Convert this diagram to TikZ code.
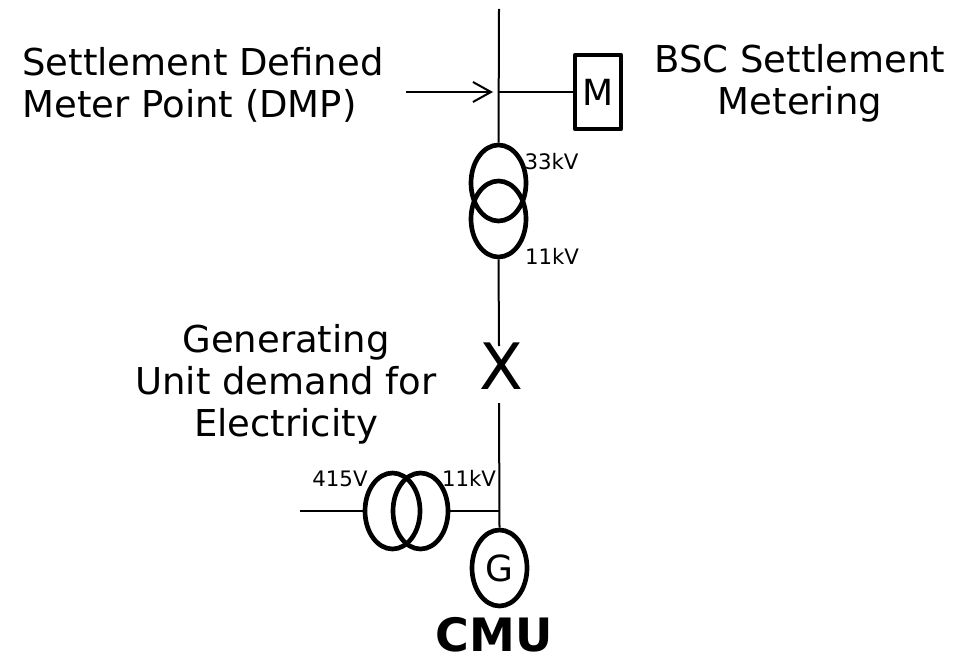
\documentclass[tikz,border=0pt]{standalone}
\usepackage{fontspec}
\setmainfont{DejaVu Sans}
\usetikzlibrary{arrows.meta,shapes.geometric}
\newdimen\px \px=0.75pt
\tikzset{
 wire/.style={line width=1.5pt,draw=black},
 coil/.style={draw=black,line width=3.5pt,ellipse,minimum width=55\px,minimum height=76\px,inner sep=0pt},
 big/.style={font=\fontsize{37\px}{42\px}\selectfont,inner sep=0pt},
 small/.style={font=\fontsize{21.3\px}{25\px}\selectfont,inner sep=0pt},
}
\begin{document}
\begin{tikzpicture}[x=0.75pt,y=-0.75pt]
\useasboundingbox (0,0) rectangle (966,656);
\node[big,align=left] (dmp) at (203,85) {Settlement Defined\\Meter Point (DMP)};
\node[big,align=center] (bsc) at (800,83) {BSC Settlement\\Metering};
\node[big,align=center] (gen) at (286,384) {Generating\\Unit demand for\\Electricity};
\node[draw,line width=3.4pt,line join=round,minimum width=46\px,minimum height=74\px,inner sep=0pt,font=\fontsize{36\px}{40\px}\selectfont] (m) at (598,92) {M};
\coordinate (top) at (499,9);
\coordinate (tap) at (499,92);
\coordinate (arrowtail) at (406,92);
\coordinate (arrowhead) at (493,92);
\node[coil] (t1) at (498.5,183) {};
\node[coil] (t2) at (498.5,219) {};
\node[inner sep=0pt,font=\fontsize{64\px}{70\px}\selectfont] (x) at (501,366) {X};
\coordinate (l1) at (499,346);
\coordinate (l2) at (499,403);
\node[coil] (t3) at (392.5,511) {};
\node[coil] (t4) at (420.5,511) {};
\coordinate (lv) at (300,511);
\coordinate (hv) at (499,511);
\node[coil,font=\fontsize{36\px}{40\px}\selectfont] (g) at (499.5,568) {G};
\node[font=\bfseries\fontsize{46\px}{50\px}\selectfont,inner sep=0pt] (cmu) at (494,635) {CMU};
\node[small] (a) at (551.5,162) {33kV};
\node[small] (b) at (552,256) {11kV};
\node[small] (c) at (340,479) {415V};
\node[small] (d) at (469,478) {11kV};
\draw[wire] (top) -- (t1.north);
\draw[wire] (tap) -- (m.west);
\draw[wire,-{Straight Barb[length=13.5pt,width=15pt]}] (arrowtail) -- (arrowhead);
\draw[wire] (t2.south) -- (l1);
\draw[wire] (l2) -- (g.north);
\draw[wire] (lv) -- (t3.west);
\draw[wire] (t4.east) -- (hv);
\end{tikzpicture}
\end{document}
